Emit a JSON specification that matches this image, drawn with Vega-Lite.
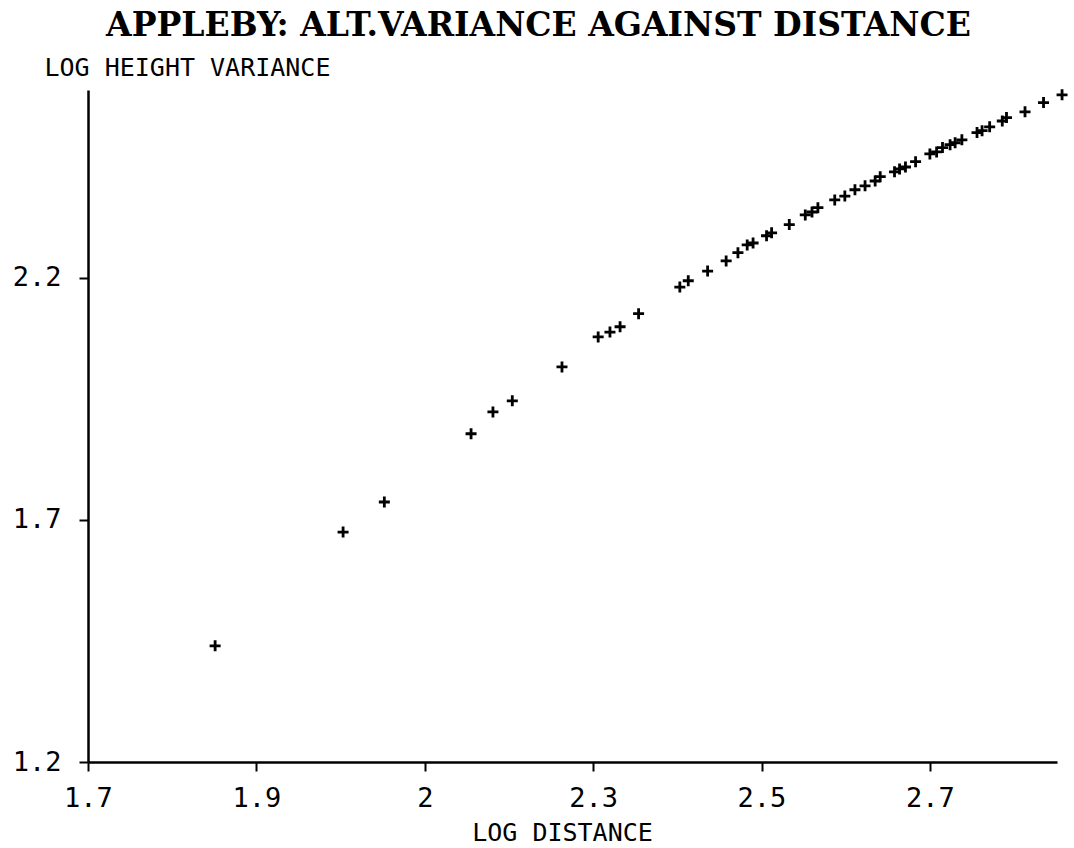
{
  "$schema": "https://vega.github.io/schema/vega-lite/v6.json",
  "width": 969,
  "height": 672,
  "autosize": {"type": "none"},
  "padding": {"left": 88, "top": 90, "right": 17, "bottom": 86},
  "background": "white",
  "title": {
    "text": "APPLEBY: ALT.VARIANCE AGAINST DISTANCE",
    "font": "DejaVu Serif",
    "fontWeight": "bold",
    "fontSize": 33,
    "color": "black",
    "anchor": "middle",
    "frame": "group",
    "dx": -34,
    "offset": 12
  },
  "data": {
    "values": [
      {"logDist": 1.851, "logVar": 1.440},
      {"logDist": 2.003, "logVar": 1.675},
      {"logDist": 2.052, "logVar": 1.737},
      {"logDist": 2.155, "logVar": 1.878},
      {"logDist": 2.181, "logVar": 1.923},
      {"logDist": 2.204, "logVar": 1.946},
      {"logDist": 2.263, "logVar": 2.016},
      {"logDist": 2.306, "logVar": 2.078},
      {"logDist": 2.320, "logVar": 2.088},
      {"logDist": 2.332, "logVar": 2.099},
      {"logDist": 2.354, "logVar": 2.126},
      {"logDist": 2.403, "logVar": 2.181},
      {"logDist": 2.413, "logVar": 2.194},
      {"logDist": 2.436, "logVar": 2.214},
      {"logDist": 2.458, "logVar": 2.235},
      {"logDist": 2.472, "logVar": 2.252},
      {"logDist": 2.483, "logVar": 2.268},
      {"logDist": 2.490, "logVar": 2.272},
      {"logDist": 2.506, "logVar": 2.287},
      {"logDist": 2.512, "logVar": 2.293},
      {"logDist": 2.533, "logVar": 2.310},
      {"logDist": 2.552, "logVar": 2.330},
      {"logDist": 2.560, "logVar": 2.336},
      {"logDist": 2.567, "logVar": 2.345},
      {"logDist": 2.587, "logVar": 2.361},
      {"logDist": 2.599, "logVar": 2.369},
      {"logDist": 2.611, "logVar": 2.382},
      {"logDist": 2.623, "logVar": 2.390},
      {"logDist": 2.635, "logVar": 2.400},
      {"logDist": 2.641, "logVar": 2.409},
      {"logDist": 2.658, "logVar": 2.419},
      {"logDist": 2.664, "logVar": 2.425},
      {"logDist": 2.671, "logVar": 2.429},
      {"logDist": 2.683, "logVar": 2.440},
      {"logDist": 2.700, "logVar": 2.456},
      {"logDist": 2.708, "logVar": 2.460},
      {"logDist": 2.715, "logVar": 2.469},
      {"logDist": 2.724, "logVar": 2.475},
      {"logDist": 2.730, "logVar": 2.479},
      {"logDist": 2.738, "logVar": 2.485},
      {"logDist": 2.756, "logVar": 2.500},
      {"logDist": 2.762, "logVar": 2.504},
      {"logDist": 2.771, "logVar": 2.512},
      {"logDist": 2.786, "logVar": 2.524},
      {"logDist": 2.791, "logVar": 2.531},
      {"logDist": 2.813, "logVar": 2.543},
      {"logDist": 2.835, "logVar": 2.562},
      {"logDist": 2.857, "logVar": 2.578}
    ]
  },
  "mark": {
    "type": "point",
    "shape": "M-1,0H1M0,-1V1",
    "filled": false,
    "size": 121,
    "strokeWidth": 2.8,
    "color": "black",
    "opacity": 1
  },
  "encoding": {
    "x": {
      "field": "logDist",
      "type": "quantitative",
      "scale": {"domain": [1.7, 2.851], "nice": false, "zero": false},
      "axis": {
        "values": [1.7, 1.9, 2.1, 2.3, 2.5, 2.7],
        "labelExpr": "datum.value > 2.05 && datum.value < 2.15 ? '2' : format(datum.value, '.1f')",
        "title": "LOG DISTANCE",
        "titleY": 78,
        "titleX": 474,
        "titleBaseline": "alphabetic",
        "labelPadding": 14
      }
    },
    "y": {
      "field": "logVar",
      "type": "quantitative",
      "scale": {"domain": [1.2, 2.588], "nice": false, "zero": false},
      "axis": {
        "values": [1.2, 1.7, 2.2],
        "format": ".1f",
        "title": "LOG HEIGHT VARIANCE",
        "titleAngle": 0,
        "titleAlign": "left",
        "titleBaseline": "alphabetic",
        "titleX": -44,
        "titleY": -15,
        "labelPadding": 18
      }
    }
  },
  "config": {
    "view": {"stroke": null},
    "axis": {
      "grid": false,
      "domainColor": "black",
      "domainWidth": 2.5,
      "tickColor": "black",
      "tickWidth": 2,
      "tickSize": 9,
      "labelFont": "DejaVu Sans Mono",
      "labelFontSize": 27,
      "labelColor": "black",
      "labelFlush": false,
      "labelOverlap": false,
      "titleFont": "DejaVu Sans Mono",
      "titleFontSize": 25,
      "titleFontWeight": "normal",
      "titleColor": "black"
    }
  }
}
